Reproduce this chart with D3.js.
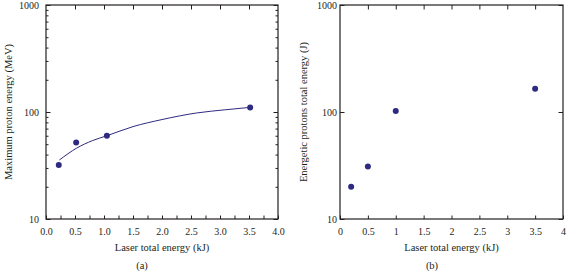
<!DOCTYPE html>
<html>
<head>
<meta charset="utf-8">
<script src="https://cdn.jsdelivr.net/npm/d3@7"></script>
<style>
  body { margin: 0; background: #fff; }
  svg text { font-family: "Liberation Serif", "DejaVu Serif", serif; fill: #231f20; }
</style>
</head>
<body>
<div id="chart"></div>
<script>
// panel (a): maximum proton energy vs laser energy
const laserA = [0.22, 0.52, 1.05, 3.52];
const maxProton = [32, 52, 60, 110];
// fitted curve
const fitX = [0.23, 0.53, 0.8, 1.05, 1.5, 2.0, 2.6, 3.1, 3.53];
const fitY = [35.6, 46, 54, 60, 73, 85, 98, 105, 110.6];

// panel (b): energetic protons total energy vs laser energy
const laserB = [0.2, 0.5, 1.0, 3.5];
const protonJ = [20, 31, 102, 165];

const yMajor = [10, 100, 1000];
const yMinor = [20, 30, 40, 50, 60, 70, 80, 90, 200, 300, 400, 500, 600, 700, 800, 900];

const ink = "#231f20";
const dotColor = "#2e2a80";

const svg = d3.select("#chart").append("svg")
    .attr("width", 567)
    .attr("height", 273);

function panel(opts) {
    const x = d3.scaleLinear().domain([0, 4]).range([opts.left, opts.right]);
    const y = d3.scaleLog().domain([10, 1000]).range([219, 5]);
    const g = svg.append("g");

    // bottom ticks with labels
    g.append("g")
        .attr("transform", "translate(0,219)")
        .call(d3.axisBottom(x).tickValues(d3.range(0, 4.01, 0.5)).tickSize(-3.5).tickPadding(9).tickFormat(opts.xFormat))
        .call(a => a.select(".domain").remove())
        .call(a => a.selectAll("text").style("font-size", "10px"));

    if (opts.xMinor) {
        g.append("g")
            .attr("transform", "translate(0,219)")
            .call(d3.axisBottom(x).tickValues(d3.range(0.25, 4, 0.5)).tickSize(-3.5).tickFormat(""))
            .call(a => a.select(".domain").remove());
    }

    // top ticks
    g.append("g")
        .attr("transform", "translate(0,5)")
        .call(d3.axisTop(x).tickValues(d3.range(0.5, 4, 0.5)).tickSize(-4.5).tickFormat(""))
        .call(a => a.select(".domain").remove());

    // left axis
    g.append("g")
        .attr("transform", `translate(${opts.left},0)`)
        .call(d3.axisLeft(y).tickValues(yMajor).tickSize(-4.5).tickPadding(opts.yPad).tickFormat(d3.format("d")))
        .call(a => a.select(".domain").remove())
        .call(a => a.selectAll("text").style("font-size", "10px"));

    // right axis
    g.append("g")
        .attr("transform", `translate(${opts.right},0)`)
        .call(d3.axisRight(y).tickValues(yMajor).tickSize(-4.5).tickFormat(""))
        .call(a => a.select(".domain").remove());

    if (opts.yMinor) {
        g.append("g")
            .attr("transform", `translate(${opts.left},0)`)
            .call(d3.axisLeft(y).tickValues(yMinor).tickSize(-2.5).tickFormat(""))
            .call(a => a.select(".domain").remove());
        g.append("g")
            .attr("transform", `translate(${opts.right},0)`)
            .call(d3.axisRight(y).tickValues(yMinor).tickSize(-2.5).tickFormat(""))
            .call(a => a.select(".domain").remove());
    }

    g.selectAll(".tick line").attr("stroke", ink).attr("stroke-width", 1);

    // frame
    g.append("rect")
        .attr("x", opts.left)
        .attr("y", 5)
        .attr("width", opts.right - opts.left)
        .attr("height", 214)
        .attr("fill", "none")
        .attr("stroke", ink)
        .attr("stroke-width", 1.2);

    // labels
    g.append("text")
        .attr("x", (opts.left + opts.right) / 2)
        .attr("y", 251)
        .attr("text-anchor", "middle")
        .style("font-size", "10.5px")
        .text("Laser total energy (kJ)");

    g.append("text")
        .attr("transform", `translate(${opts.yLabelX},112) rotate(-90)`)
        .attr("text-anchor", "middle")
        .style("font-size", "10.5px")
        .text(opts.yLabel);

    g.append("text")
        .attr("x", opts.tagX)
        .attr("y", 269)
        .attr("text-anchor", "middle")
        .style("font-size", "10.5px")
        .text(opts.tag);

    return { g, x, y };
}

const a = panel({
    left: 46, right: 278, xFormat: d3.format(".1f"), xMinor: true, yMinor: true,
    yPad: 7, yLabel: "Maximum proton energy (MeV)", yLabelX: 12, tag: "(a)", tagX: 142
});

const fitData = fitX.map((d, i) => [d, fitY[i]]);
a.g.append("path")
    .datum(fitData)
    .attr("fill", "none")
    .attr("stroke", dotColor)
    .attr("stroke-width", 1)
    .attr("d", d3.line().x(d => a.x(d[0])).y(d => a.y(d[1])).curve(d3.curveMonotoneX));

a.g.selectAll(".dot")
    .data(laserA.map((d, i) => [d, maxProton[i]]))
    .enter()
    .append("circle")
    .attr("class", "dot")
    .attr("cx", d => a.x(d[0]))
    .attr("cy", d => a.y(d[1]))
    .attr("r", 3)
    .attr("fill", dotColor);

const b = panel({
    left: 340, right: 563, xFormat: d3.format(""), xMinor: false, yMinor: false,
    yPad: 3, yLabel: "Energetic protons total energy (J)", yLabelX: 307, tag: "(b)", tagX: 432
});

b.g.selectAll(".dot")
    .data(laserB.map((d, i) => [d, protonJ[i]]))
    .enter()
    .append("circle")
    .attr("class", "dot")
    .attr("cx", d => b.x(d[0]))
    .attr("cy", d => b.y(d[1]))
    .attr("r", 3)
    .attr("fill", dotColor);
</script>
</body>
</html>
